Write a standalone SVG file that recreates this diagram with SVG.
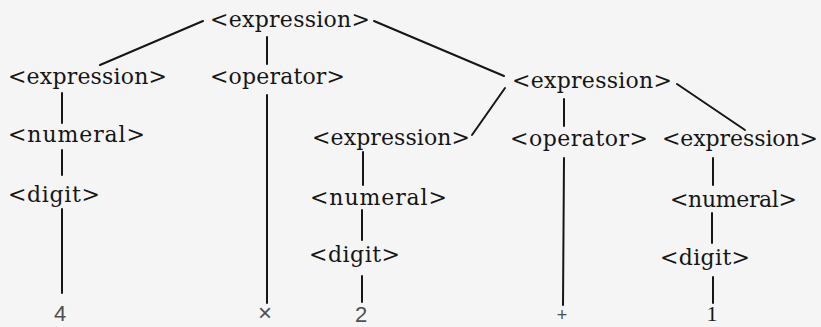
<svg xmlns="http://www.w3.org/2000/svg" width="821" height="327" viewBox="0 0 821 327">
<style>
.bg{fill:#f5f5f5}
.lbl{font-family:"DejaVu Serif","Liberation Serif",serif;font-size:22px;fill:#161616}
.num{font-family:"Liberation Sans",Arial,sans-serif;font-size:22px;fill:#505050;text-anchor:middle}
.one{font-family:"Liberation Serif","Times New Roman",serif;font-size:22px;fill:#161616;text-anchor:middle}
.edge{stroke:#161616;stroke-width:2;stroke-linecap:round;fill:none}
</style>
<rect class="bg" x="0" y="0" width="821" height="327"/>
<g id="connectors">
<line class="edge" x1="203" y1="21" x2="100" y2="65"/>
<line class="edge" x1="267" y1="37" x2="267" y2="64"/>
<line class="edge" x1="374" y1="21" x2="504" y2="76"/>
<line class="edge" x1="62" y1="93" x2="62" y2="123"/>
<line class="edge" x1="62" y1="150" x2="62" y2="175"/>
<line class="edge" x1="62" y1="209" x2="62" y2="293"/>
<line class="edge" x1="267" y1="95" x2="267" y2="303"/>
<line class="edge" x1="505" y1="88" x2="472" y2="135"/>
<line class="edge" x1="564" y1="99" x2="564" y2="126"/>
<line class="edge" x1="677" y1="84" x2="745" y2="130"/>
<line class="edge" x1="363" y1="152" x2="363" y2="185"/>
<line class="edge" x1="362" y1="210" x2="362" y2="240"/>
<line class="edge" x1="362" y1="276" x2="362" y2="302"/>
<line class="edge" x1="564" y1="158" x2="563" y2="305"/>
<line class="edge" x1="713" y1="158" x2="713" y2="185"/>
<line class="edge" x1="712" y1="213" x2="712" y2="243"/>
<line class="edge" x1="713" y1="277" x2="713" y2="303"/>
</g>
<g id="n-expr-top"><text class="lbl" x="210" y="27" textLength="160" lengthAdjust="spacing">&lt;expression&gt;</text></g>
<g id="n-expr-left"><text class="lbl" x="8" y="84" textLength="159" lengthAdjust="spacing">&lt;expression&gt;</text></g>
<g id="n-op-left"><text class="lbl" x="210" y="84" textLength="135" lengthAdjust="spacing">&lt;operator&gt;</text></g>
<g id="n-expr-right"><text class="lbl" x="512" y="88" textLength="160" lengthAdjust="spacing">&lt;expression&gt;</text></g>
<g id="n-num-left"><text class="lbl" x="8" y="142" textLength="137" lengthAdjust="spacing">&lt;numeral&gt;</text></g>
<g id="n-expr-mid"><text class="lbl" x="312" y="145" textLength="158" lengthAdjust="spacing">&lt;expression&gt;</text></g>
<g id="n-op-right"><text class="lbl" x="510" y="146" textLength="138" lengthAdjust="spacing">&lt;operator&gt;</text></g>
<g id="n-expr-rr"><text class="lbl" x="662" y="146" textLength="156" lengthAdjust="spacing">&lt;expression&gt;</text></g>
<g id="n-digit-left"><text class="lbl" x="8" y="202" textLength="92" lengthAdjust="spacing">&lt;digit&gt;</text></g>
<g id="n-num-mid"><text class="lbl" x="310" y="205" textLength="137" lengthAdjust="spacing">&lt;numeral&gt;</text></g>
<g id="n-num-rr"><text class="lbl" x="670" y="207" textLength="127" lengthAdjust="spacing">&lt;numeral&gt;</text></g>
<g id="n-digit-mid"><text class="lbl" x="309" y="262" textLength="91" lengthAdjust="spacing">&lt;digit&gt;</text></g>
<g id="n-digit-rr"><text class="lbl" x="660" y="265" textLength="90" lengthAdjust="spacing">&lt;digit&gt;</text></g>
<g id="n-4"><text class="num" x="60" y="321">4</text></g>
<g id="n-times"><text class="num" x="265" y="321" style="font-size:24px">×</text></g>
<g id="n-2"><text class="num" x="361" y="322">2</text></g>
<g id="n-plus"><text class="num" x="562" y="321" style="font-size:18px">+</text></g>
<g id="n-1"><text class="one" x="712" y="321">1</text></g>
</svg>
